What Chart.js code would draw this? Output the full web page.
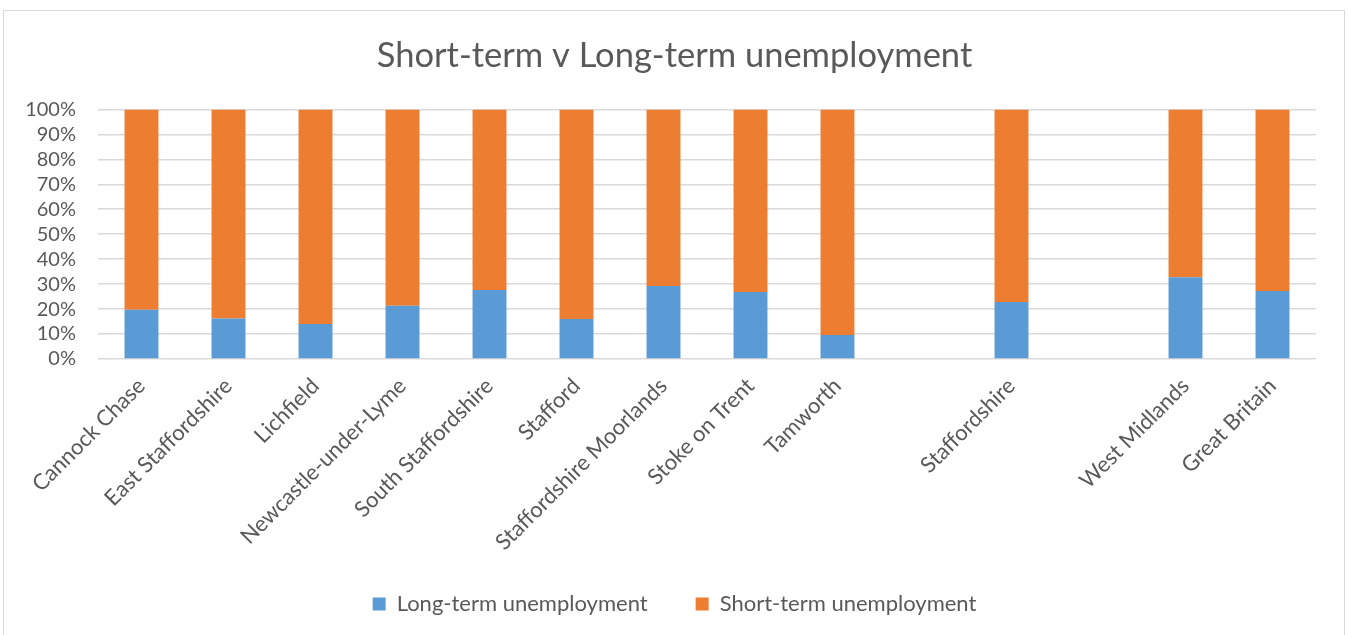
<!DOCTYPE html>
<html>
<head>
<meta charset="utf-8">
<script src="https://cdn.jsdelivr.net/npm/chart.js@4"></script>
<style>
  html, body { margin: 0; padding: 0; background: #fff; overflow: hidden; }
  #wrap { position: relative; width: 1349px; height: 635px; }
  #frame { position: absolute; left: 3px; top: 10px; width: 1342px; height: 640px;
           border: 1px solid #d9d9d9; box-sizing: border-box; pointer-events: none; }
  canvas { position: absolute; left: 0; top: 0; }
</style>
</head>
<body>
<div id="wrap">
  <canvas id="unemp" width="1349" height="635"></canvas>
  <div id="frame"></div>
</div>
<script>
// Areas (empty strings are spacer slots between the district and regional groups)
const areas = ['Cannock Chase', 'East Staffordshire', 'Lichfield', 'Newcastle-under-Lyme',
               'South Staffordshire', 'Stafford', 'Staffordshire Moorlands', 'Stoke on Trent',
               'Tamworth', '', 'Staffordshire', '', 'West Midlands', 'Great Britain'];

// Share of claimants, %
const longTerm  = [19.7, 16.2, 14.0, 21.3, 27.6, 16.0, 29.2, 26.8, 9.6, null, 22.8, null, 32.8, 27.2];
const shortTerm = [80.3, 83.8, 86.0, 78.7, 72.4, 84.0, 70.8, 73.2, 90.4, null, 77.2, null, 67.2, 72.8];

const seriesNames = ['Long-term unemployment', 'Short-term unemployment'];
const yTicks = [0, 10, 20, 30, 40, 50, 60, 70, 80, 90, 100];

const FONT = 'Lato, "Open Sans", sans-serif';
const TEXT = '#595959';

// Tick labels are clipped to their scale box; widen the boxes after layout
// so long labels can spill into the padding without moving the plot area.
const unclipLabels = {
    id: 'unclipLabels',
    afterLayout: function(chart) {
        chart.scales.y.left = 0;
        chart.scales.x.bottom = chart.height;
    }
};

document.addEventListener('DOMContentLoaded', function() {
    const ctx = document.getElementById('unemp').getContext('2d');

    new Chart(ctx, {
        type: 'bar',
        data: {
            labels: areas,
            datasets: [
                { label: seriesNames[0], data: longTerm,  backgroundColor: '#5B9BD5' },
                { label: seriesNames[1], data: shortTerm, backgroundColor: '#ED7D31' }
            ]
        },
        plugins: [unclipLabels],
        options: {
            responsive: false,
            animation: false,
            datasets: { bar: { categoryPercentage: 0.39, barPercentage: 1 } },
            // symmetric side padding keeps title and legend centred on the canvas
            layout: { padding: { left: 33, right: 33, top: 0, bottom: 10 } },
            plugins: {
                title: {
                    display: true,
                    text: 'Short-term v Long-term unemployment',
                    color: TEXT,
                    font: { family: FONT, size: 34.5, weight: 'normal' },
                    padding: { top: 35, bottom: 33 }
                },
                legend: {
                    position: 'bottom',
                    labels: {
                        color: TEXT,
                        font: { family: FONT, size: 22 },
                        boxWidth: 13,
                        boxHeight: 13,
                        padding: 48
                    }
                },
                tooltip: { enabled: false }
            },
            scales: {
                x: {
                    stacked: true,
                    grid: { display: false },
                    border: { display: false },
                    ticks: {
                        color: TEXT,
                        font: { family: FONT, size: 22 },
                        maxRotation: 45,
                        minRotation: 45,
                        autoSkip: false,
                        padding: 6
                    },
                    afterFit: function(scale) { scale.height = 186; }
                },
                y: {
                    stacked: true,
                    min: 0,
                    max: 100,
                    afterBuildTicks: function(scale) {
                        scale.ticks = yTicks.map(v => ({ value: v }));
                    },
                    grid: { color: '#d9d9d9', lineWidth: 1.5, drawTicks: false },
                    border: { display: false },
                    ticks: {
                        color: TEXT,
                        font: { family: FONT, size: 20 },
                        padding: 22,
                        autoSkip: false,
                        callback: function(value) { return value + '%'; }
                    },
                    afterFit: function(scale) { scale.width = 65; }
                }
            }
        }
    });
});
</script>
</body>
</html>
